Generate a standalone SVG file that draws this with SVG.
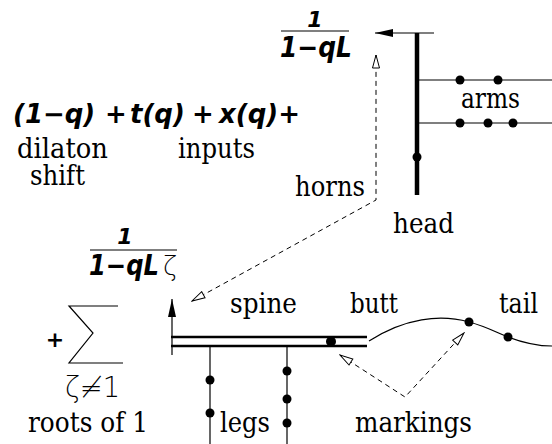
<svg xmlns="http://www.w3.org/2000/svg" width="552" height="444" viewBox="0 0 552 444">
<style>
.math{font-family:"DejaVu Sans",sans-serif;font-weight:bold;font-style:italic;fill:#000}
.thin{font-family:"DejaVu Sans",sans-serif;font-weight:200;fill:#000}
.lbl{font-family:"DejaVu Serif",serif;font-size:28px;fill:#000}
.thinline{stroke:#000;stroke-width:1.2;fill:none}
.dash{stroke:#000;stroke-width:1;fill:none;stroke-dasharray:5,4}
.dot{fill:#000}
</style>
<defs>
<marker id="solid" viewBox="0 0 18 8" refX="18" refY="4" markerWidth="18" markerHeight="8" markerUnits="userSpaceOnUse" orient="auto">
<path d="M0,0 L18,4 L0,8 z" fill="#000"/>
</marker>
<marker id="hollow" viewBox="0 0 15 9" refX="14" refY="4.5" markerWidth="15" markerHeight="9" markerUnits="userSpaceOnUse" orient="auto-start-reverse">
<path d="M1,1 L14,4.5 L1,8 z" fill="#fff" stroke="#000" stroke-width="1"/>
</marker>
</defs>

<g id="formula">
<text class="math" y="123" font-size="26"><tspan x="13">(1−q)</tspan><tspan x="105">+</tspan><tspan x="130">t(q)</tspan><tspan x="192">+</tspan><tspan x="219">x(q)+</tspan></text>
<text class="lbl" x="17" y="158" textLength="91" lengthAdjust="spacingAndGlyphs">dilaton</text>
<text class="lbl" x="30" y="185" textLength="55" lengthAdjust="spacingAndGlyphs">shift</text>
<text class="lbl" x="178" y="158" textLength="77" lengthAdjust="spacingAndGlyphs">inputs</text>
</g>

<g id="head-fraction">
<text class="math" x="315" y="27" font-size="22" text-anchor="middle">1</text>
<line x1="281" y1="31" x2="349" y2="31" stroke="#000" stroke-width="1.2"/>
<text class="math" x="280" y="57" font-size="28" textLength="72" lengthAdjust="spacingAndGlyphs">1−qL</text>
</g>

<g id="head">
<line x1="417" y1="33" x2="417" y2="195" stroke="#000" stroke-width="4.5"/>
<circle class="dot" cx="417" cy="157" r="4.5"/>
<text class="lbl" x="393" y="233" textLength="61" lengthAdjust="spacingAndGlyphs">head</text>
</g>

<g id="arms">
<line class="thinline" x1="417" y1="80" x2="552" y2="80"/>
<line class="thinline" x1="417" y1="123" x2="552" y2="123"/>
<circle class="dot" cx="460" cy="80" r="4.5"/>
<circle class="dot" cx="498" cy="80" r="4.5"/>
<circle class="dot" cx="460" cy="123" r="4.5"/>
<circle class="dot" cx="488" cy="123" r="4.5"/>
<circle class="dot" cx="513" cy="123" r="4.5"/>
<text class="lbl" x="461" y="108" textLength="59" lengthAdjust="spacingAndGlyphs">arms</text>
</g>

<g id="horns">
<text class="lbl" x="295" y="196" textLength="70" lengthAdjust="spacingAndGlyphs">horns</text>
</g>

<g id="spine-fraction">
<text class="math" x="125" y="244" font-size="22" text-anchor="middle">1</text>
<line x1="90" y1="250" x2="177" y2="250" stroke="#000" stroke-width="1.2"/>
<text class="math" x="89" y="275" font-size="28" textLength="70" lengthAdjust="spacingAndGlyphs">1−qL</text>
<text class="thin" x="163" y="275" font-size="26" textLength="14" lengthAdjust="spacingAndGlyphs">ζ</text>
</g>

<g id="sum">
<text class="math" x="55" y="347" font-size="22" font-style="normal" text-anchor="middle">+</text>
<polyline class="thinline" stroke-width="1" points="118,306 69,306 93,333 69,363 123,363"/>
<text class="thin" x="65" y="397" font-size="28" textLength="55" lengthAdjust="spacingAndGlyphs">ζ≠1</text>
<text class="lbl" x="28" y="432" textLength="120" lengthAdjust="spacingAndGlyphs">roots of 1</text>
</g>

<g id="spine">
<line x1="171" y1="337" x2="367" y2="337" stroke="#000" stroke-width="2.6"/>
<line x1="171" y1="346" x2="367" y2="346" stroke="#000" stroke-width="2.6"/>
<circle class="dot" cx="331" cy="341.5" r="5"/>
<text class="lbl" x="230" y="313" textLength="67" lengthAdjust="spacingAndGlyphs">spine</text>
<text class="lbl" x="350" y="313" textLength="48" lengthAdjust="spacingAndGlyphs">butt</text>
</g>

<g id="legs">
<line class="thinline" x1="210" y1="346" x2="210" y2="444"/>
<line class="thinline" x1="287" y1="346" x2="287" y2="444"/>
<circle class="dot" cx="210" cy="380" r="4.5"/>
<circle class="dot" cx="210" cy="413" r="4.5"/>
<circle class="dot" cx="287" cy="371" r="4.5"/>
<circle class="dot" cx="287" cy="399" r="4.5"/>
<circle class="dot" cx="287" cy="423" r="4.5"/>
<text class="lbl" x="220" y="432" textLength="50" lengthAdjust="spacingAndGlyphs">legs</text>
</g>

<g id="tail">
<path class="thinline" d="M369,341 C405,318 440,314 469,322 C488,327 497,333 508,337 C524,343 538,346 552,346"/>
<circle class="dot" cx="469" cy="322" r="4.5"/>
<circle class="dot" cx="508" cy="337" r="4.5"/>
<text class="lbl" x="499" y="313" textLength="39" lengthAdjust="spacingAndGlyphs">tail</text>
</g>

<g id="markings">
<text class="lbl" x="355" y="432" textLength="117" lengthAdjust="spacingAndGlyphs">markings</text>
</g>

<g id="connectors">
<line x1="434" y1="33" x2="375" y2="33" stroke="#000" stroke-width="1.2" marker-end="url(#solid)"/>
<line x1="172" y1="355" x2="172" y2="299" stroke="#000" stroke-width="1.2" marker-end="url(#solid)"/>
<path class="dash" d="M192,301 L376,200 L376,55" marker-start="url(#hollow)" marker-end="url(#hollow)"/>
<path class="dash" d="M340,355 L405,397 L464,333" marker-start="url(#hollow)" marker-end="url(#hollow)"/>
</g>
</svg>
